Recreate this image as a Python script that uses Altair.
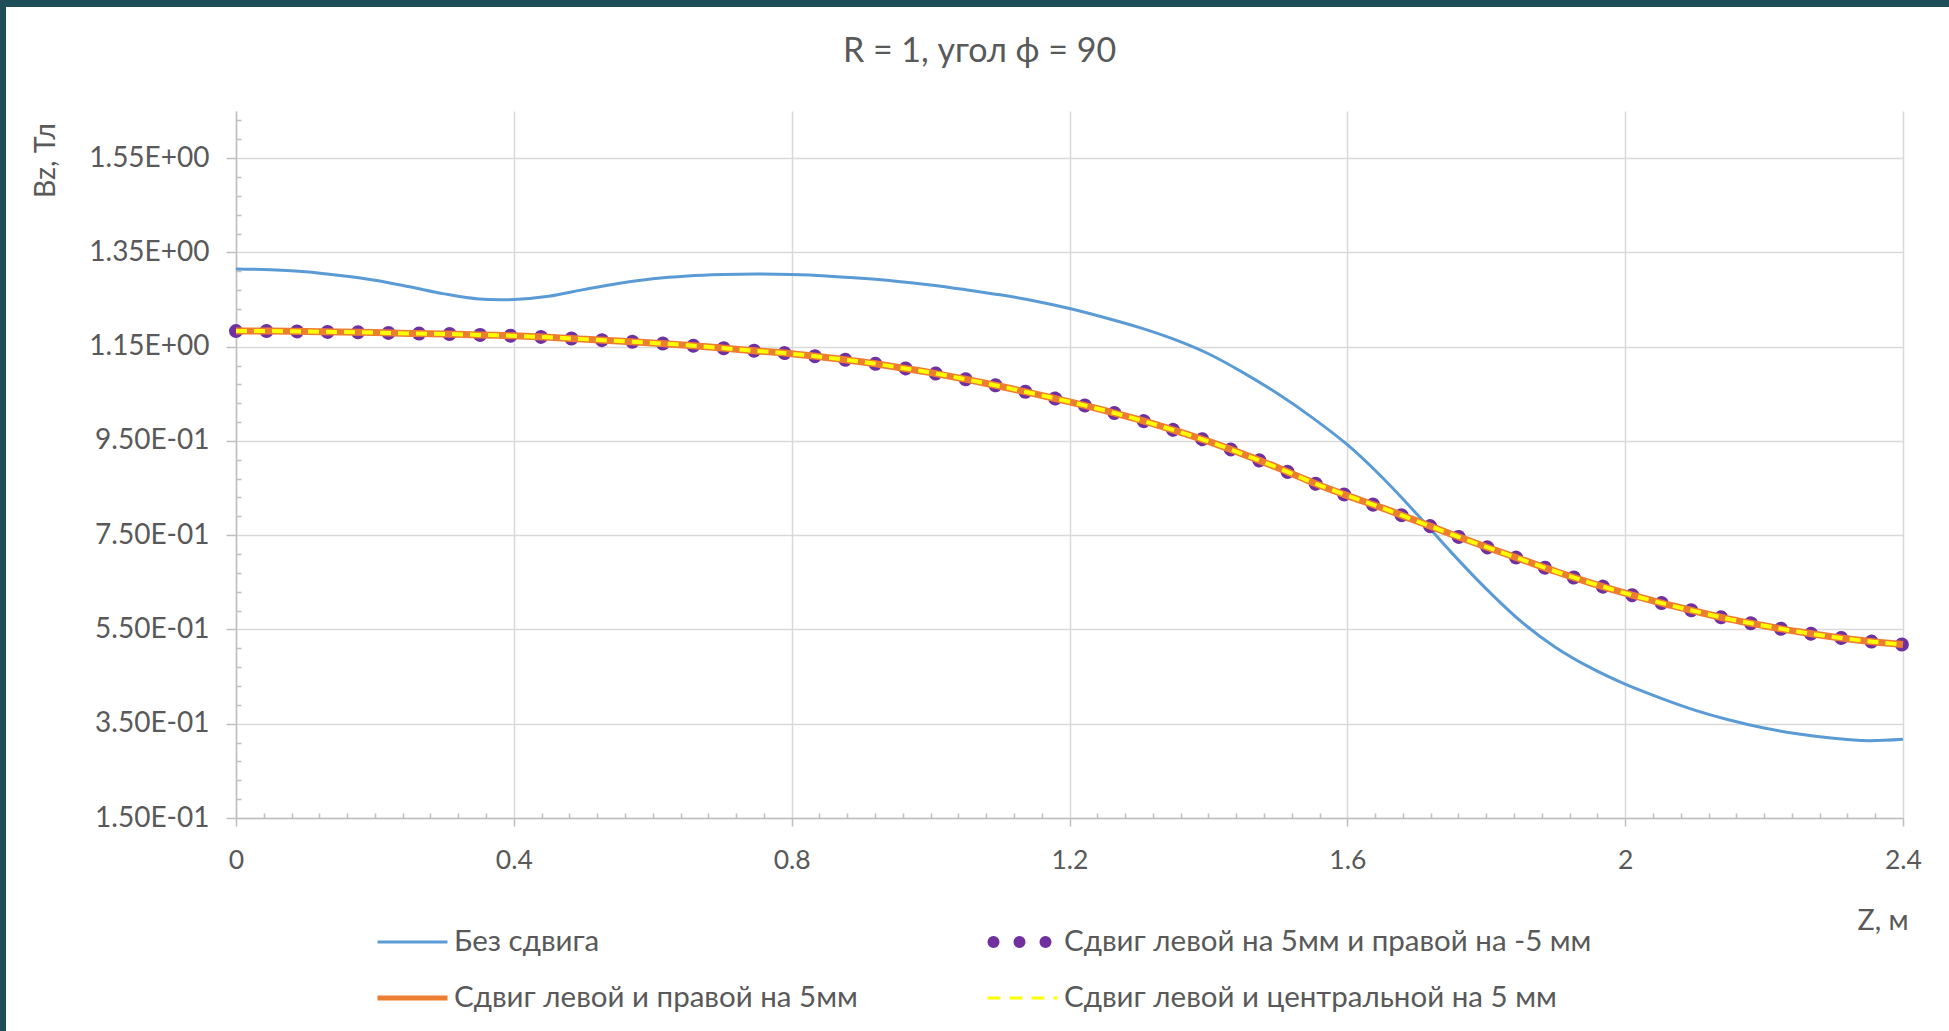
import math
import altair as alt
import pandas as pd

TITLE = "R = 1, угол ф = 90"
Y_TITLE = "Bz, Тл"
X_TITLE = "Z, м"

S1 = "Без сдвига"
S2 = "Сдвиг левой на 5мм и правой на -5 мм"
S3 = "Сдвиг левой и правой на 5мм"
S4 = "Сдвиг левой и центральной на 5 мм"
SERIES = [S1, S2, S3, S4]
COLORS = {S1: "#5b9bd5", S2: "#7030a0", S3: "#ed7d31", S4: "#ffff00"}
# legend fills columns first: this order gives rows (S1, S2) and (S3, S4)
LEGEND_ORDER = [S1, S3, S2, S4]

z = [0.0, 0.05, 0.1, 0.15, 0.2, 0.25, 0.3, 0.35, 0.4, 0.45, 0.5, 0.55, 0.6,
     0.65, 0.7, 0.75, 0.8, 0.85, 0.9, 0.95, 1.0, 1.05, 1.1, 1.15, 1.2, 1.25,
     1.3, 1.35, 1.4, 1.45, 1.5, 1.55, 1.6, 1.65, 1.7, 1.75, 1.8, 1.85, 1.9,
     1.95, 2.0, 2.05, 2.1, 2.15, 2.2, 2.25, 2.3, 2.35, 2.4]

bz_s1 = [1.315, 1.313, 1.309, 1.301, 1.291, 1.277, 1.262, 1.251, 1.250, 1.257,
         1.271, 1.284, 1.294, 1.300, 1.303, 1.304, 1.303, 1.300, 1.295, 1.289,
         1.281, 1.271, 1.260, 1.247, 1.231, 1.212, 1.191, 1.166, 1.135, 1.095,
         1.050, 0.999, 0.942, 0.873, 0.795, 0.713, 0.636, 0.567, 0.512, 0.469,
         0.434, 0.405, 0.379, 0.358, 0.341, 0.328, 0.319, 0.314, 0.317]

bz_s2 = [1.183, 1.183, 1.182, 1.181, 1.180, 1.178, 1.177, 1.175, 1.173, 1.170,
         1.166, 1.162, 1.158, 1.153, 1.147, 1.141, 1.135, 1.127, 1.118, 1.107,
         1.095, 1.081, 1.066, 1.050, 1.033, 1.015, 0.995, 0.973, 0.949, 0.922,
         0.893, 0.862, 0.834, 0.808, 0.780, 0.752, 0.725, 0.699, 0.673, 0.649,
         0.627, 0.607, 0.589, 0.572, 0.558, 0.545, 0.534, 0.525, 0.518]

bz_s3 = [1.183, 1.183, 1.182, 1.181, 1.180, 1.178, 1.177, 1.175, 1.173, 1.170,
         1.166, 1.162, 1.158, 1.153, 1.147, 1.141, 1.135, 1.127, 1.118, 1.107,
         1.095, 1.081, 1.066, 1.050, 1.033, 1.015, 0.995, 0.973, 0.949, 0.922,
         0.893, 0.862, 0.834, 0.808, 0.780, 0.752, 0.725, 0.699, 0.673, 0.649,
         0.627, 0.607, 0.589, 0.572, 0.558, 0.545, 0.534, 0.525, 0.518]

bz_s4 = [1.183, 1.183, 1.182, 1.181, 1.180, 1.178, 1.177, 1.175, 1.173, 1.170,
         1.166, 1.162, 1.158, 1.153, 1.147, 1.141, 1.135, 1.127, 1.118, 1.107,
         1.095, 1.081, 1.066, 1.050, 1.033, 1.015, 0.995, 0.973, 0.949, 0.922,
         0.893, 0.862, 0.834, 0.808, 0.780, 0.752, 0.725, 0.699, 0.673, 0.649,
         0.627, 0.607, 0.589, 0.572, 0.558, 0.545, 0.534, 0.525, 0.518]

Y_TICKS = [0.15, 0.35, 0.55, 0.75, 0.95, 1.15, 1.35, 1.55]
X_TICKS = [0.0, 0.4, 0.8, 1.2, 1.6, 2.0, 2.4]
Y_MINOR = [round(0.15 + 0.04 * i, 2) for i in range(38) if i % 5 != 0]
X_MINOR = [round(0.04 * i, 2) for i in range(61) if i % 10 != 0]

rows = []
for name, vals in zip(SERIES, [bz_s1, bz_s2, bz_s3, bz_s4]):
    for zz, b in zip(z, vals):
        rows.append({"z": zz, "B": b, "series": name})
df = pd.DataFrame(rows)

W, H = 1667, 707
PAD = {"left": 236, "top": 111, "right": 46, "bottom": 213}

FONT = "Lato"
TXT = "#595959"
FRAME = "#1e4f59"


# ---- legend symbol shapes (unit = 14 px) ----
def ring(cx, r, n=16):
    pts = [(cx + r * math.cos(2 * math.pi * k / n), r * math.sin(2 * math.pi * k / n))
           for k in range(n)]
    return "M" + "L".join(f"{x:.4f},{y:.4f}" for x, y in pts) + "Z"


DOTS = "".join(ring(c, 0.3214) + ring(c, 0.1071) for c in (-0.5714, 1.2857, 3.1429))
LINE = "M-1,0H4"
THICK = "M-1,-0.07H4M-1,0.07H4"

t2 = f"datum.value === '{S2}'"
t3 = f"datum.value === '{S3}'"
t4 = f"datum.value === '{S4}'"
shape_expr = f"{t2} ? '{DOTS}' : ({t3} ? '{THICK}' : '{LINE}')"
dash_expr = f"{t4} ? [13, 9] : [1, 0]"

legend = alt.Legend(
    title=None, orient="none", legendX=140, legendY=815.5, columns=2,
    symbolType={"expr": shape_expr}, symbolDash={"expr": dash_expr},
    symbolSize=784, symbolStrokeWidth=3,
    labelOffset=47, labelFont=FONT, labelFontSize=29.5, labelColor=TXT,
    labelLimit=900, rowPadding=26, columnPadding=123, padding=0,
    gridAlign="each",
)

x_scale = alt.Scale(domain=[0, 2.4], nice=False, zero=False)
y_scale = alt.Scale(domain=[0.15, 1.65], nice=False, zero=False)

x_main = alt.Axis(values=X_TICKS, format="~g", orient="bottom", tickSize=8,
                  labelPadding=21, labelFlush=False, labelFontSize=26.5,
                  grid=True, title=X_TITLE, titleX=1672,
                  titleY=102, titleAlign="right", titleBaseline="middle")
y_main = alt.Axis(values=Y_TICKS, orient="left", tickSize=10, labelPadding=17,
                  labelFontSize=28, grid=True,
                  labelExpr="replace(replace(format(datum.value, '.2e'), 'e+', 'E+0'), 'e-', 'E-0')",
                  title=Y_TITLE, titleAngle=270, titleX=-191, titleY=49,
                  titleAlign="center", titleBaseline="middle")
x_minor = alt.Axis(values=X_MINOR, orient="top", offset=-H, tickSize=5,
                   labels=False, domain=False, grid=False, title=None)
y_minor = alt.Axis(values=Y_MINOR, orient="right", offset=-W, tickSize=5,
                   labels=False, domain=False, grid=False, title=None)

color = alt.Color("series:N",
                  scale=alt.Scale(domain=LEGEND_ORDER,
                                  range=[COLORS[s] for s in LEGEND_ORDER]),
                  legend=legend)

base = alt.Chart(df)


def layer(name, xaxis, yaxis, width, dash=None, **mk):
    enc = dict(
        x=alt.X("z:Q", scale=x_scale, axis=xaxis),
        y=alt.Y("B:Q", scale=y_scale, axis=yaxis),
        color=color,
        strokeWidth=alt.value(width),
    )
    if dash is not None:
        enc["strokeDash"] = alt.value(dash)
    return base.transform_filter(alt.datum.series == name).mark_line(
        interpolate="catmull-rom", **mk
    ).encode(**enc)


frame_df = pd.DataFrame({"k": [0]})
left_strip = alt.Chart(frame_df).mark_rect(fill=FRAME).encode(
    x=alt.value(-PAD["left"]), x2=alt.value(6 - PAD["left"]),
    y=alt.value(-PAD["top"]), y2=alt.value(1031 - PAD["top"]),
)
top_strip = alt.Chart(frame_df).mark_rect(fill=FRAME).encode(
    x=alt.value(-PAD["left"]), x2=alt.value(1949 - PAD["left"]),
    y=alt.value(-PAD["top"]), y2=alt.value(7 - PAD["top"]),
)

l1 = layer(S1, x_main, y_main, 3)
l2 = layer(S2, x_minor, y_minor, 14, [0.01, 30.5], strokeCap="round")
l3 = layer(S3, None, None, 7)
l4 = layer(S4, None, None, 4, [11, 7])

chart = alt.layer(l1, l2, l3, l4, left_strip, top_strip).resolve_axis(
    x="independent", y="independent"
).properties(
    width=W, height=H,
    autosize=alt.AutoSizeParams(type="none"),
    padding=PAD,
    background="white",
    title=alt.TitleParams(TITLE, font=FONT, fontSize=34, color=TXT,
                          fontWeight="normal", anchor="middle", frame="group",
                          dx=-90, dy=86, offset=0, baseline="middle"),
).configure_view(strokeWidth=0).configure_axis(
    labelFont=FONT, labelColor=TXT,
    titleFont=FONT, titleFontSize=28.5, titleColor=TXT, titleFontWeight="normal",
    gridColor="#d9d9d9", gridWidth=1.5, domainColor="#bfbfbf", domainWidth=1.5,
    tickColor="#bfbfbf", tickWidth=1.5,
)

chart.save("out.html", embed_options={"renderer": "svg", "actions": False})
